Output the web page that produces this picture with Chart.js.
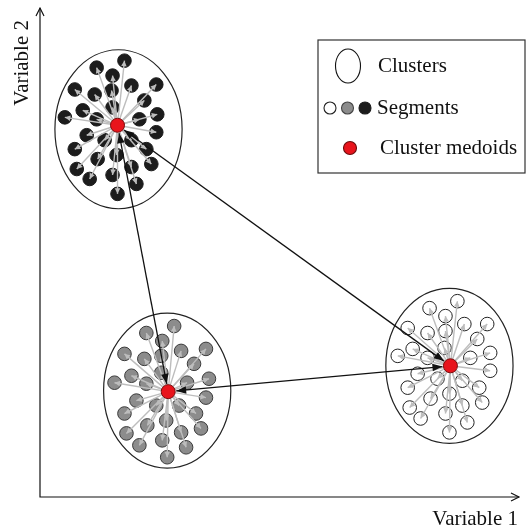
<!DOCTYPE html>
<html>
<head>
<meta charset="utf-8">
<script src="https://cdn.jsdelivr.net/npm/chart.js@4/dist/chart.umd.min.js"></script>
<style>
  html, body { margin: 0; padding: 0; background: #fff; }
  #wrap { width: 527px; height: 531px; }
</style>
</head>
<body>
<div id="wrap"><canvas id="chart"></canvas></div>
<script>
// Сегменты кластеров (Variable 1, Variable 2)
const blackSegments = [
    [85,439],[57,432],[73,424],[92,414],[117,415],[35,410],[55,405],[72,409],[105,399],[43,389],
    [73,392],[118,385],[25,382],[57,380],[100,380],[47,364],[65,359],[92,359],[117,367],[35,350],
    [107,350],[58,340],[77,344],[112,335],[37,330],[92,332],[50,320],[73,324],[97,315],[78,305]
];
const graySegments = [
    [135,172],[107,165],[123,157],[142,147],[167,149],[85,144],[105,139],[122,142],[155,134],[92,122],
    [122,125],[170,119],[75,115],[107,114],[148,115],[97,97],[117,92],[140,92],[167,100],[85,84],
    [157,84],[108,72],[127,77],[162,69],[87,64],[142,65],[100,52],[123,57],[147,50],[128,40]
];
const whiteSegments = [
    [420,197],[392,190],[408,182],[427,174],[450,174],[370,170],[390,165],[408,167],[440,159],[375,149],
    [407,150],[453,145],[360,142],[390,140],[433,140],[380,124],[400,119],[425,117],[453,127],[370,110],
    [442,110],[393,99],[412,104],[445,95],[372,90],[425,92],[383,79],[408,84],[430,75],[412,65]
];

// Медоиды: чёрный, серый, белый кластер
const medoids = [[78,374],[129,106],[413,132]];

// Эллипсы кластеров: центр x, центр y, радиус x, радиус y
const clusterEllipses = [
    [79,370,64,80],
    [128,107,64,78],
    [412,132,64,78]
];

// Связи между медоидами (индексы)
const medoidLinks = [[0,2],[0,1],[1,2]];

const axisLabels = ['Variable 1', 'Variable 2'];
const legendLabels = ['Clusters', 'Segments', 'Cluster medoids'];

const SERIF = '"Liberation Serif", "DejaVu Serif", serif';

const toPts = arr => arr.map(([x, y]) => ({ x, y }));

function arrowHead(ctx, x1, y1, x2, y2, len, half) {
    const a = Math.atan2(y2 - y1, x2 - x1);
    ctx.beginPath();
    ctx.moveTo(x2, y2);
    ctx.lineTo(x2 - len * Math.cos(a) + half * Math.sin(a), y2 - len * Math.sin(a) - half * Math.cos(a));
    ctx.lineTo(x2 - len * Math.cos(a) - half * Math.sin(a), y2 - len * Math.sin(a) + half * Math.cos(a));
    ctx.closePath();
    ctx.fill();
}

// Эллипсы под точками
const ellipsePlugin = {
    id: 'ellipses',
    beforeDatasetsDraw(chart) {
        const { ctx, scales: { x, y } } = chart;
        ctx.save();
        ctx.strokeStyle = '#222';
        ctx.lineWidth = 1.2;
        clusterEllipses.forEach(([cx, cy, rx, ry]) => {
            const px = x.getPixelForValue(cx), py = y.getPixelForValue(cy);
            const rpx = x.getPixelForValue(cx + rx) - px;
            const rpy = py - y.getPixelForValue(cy + ry);
            ctx.beginPath();
            ctx.ellipse(px, py, rpx, rpy, 0, 0, Math.PI * 2);
            ctx.stroke();
        });
        ctx.restore();
    }
};

// Лучи от медоидов к сегментам и стрелки между медоидами
const linksPlugin = {
    id: 'links',
    afterDatasetDraw(chart, args) {
        if (args.index !== 1) return;
        const { ctx, scales: { x, y } } = chart;
        const groups = [blackSegments, graySegments, whiteSegments];
        ctx.save();
        ctx.strokeStyle = '#bdbdbd';
        ctx.fillStyle = '#bdbdbd';
        ctx.lineWidth = 1.4;
        groups.forEach((seg, i) => {
            const mx = x.getPixelForValue(medoids[i][0]);
            const my = y.getPixelForValue(medoids[i][1]);
            seg.forEach(([sx, sy]) => {
                const px = x.getPixelForValue(sx), py = y.getPixelForValue(sy);
                ctx.beginPath();
                ctx.moveTo(mx, my);
                ctx.lineTo(px, py);
                ctx.stroke();
                arrowHead(ctx, mx, my, px, py, 5.5, 2.8);
            });
        });

        ctx.strokeStyle = '#111';
        ctx.fillStyle = '#111';
        ctx.lineWidth = 1.3;
        medoidLinks.forEach(([a, b]) => {
            const ax = x.getPixelForValue(medoids[a][0]), ay = y.getPixelForValue(medoids[a][1]);
            const bx = x.getPixelForValue(medoids[b][0]), by = y.getPixelForValue(medoids[b][1]);
            const d = Math.hypot(bx - ax, by - ay);
            const ux = (bx - ax) / d, uy = (by - ay) / d;
            const gap = 8;
            const sx = ax + ux * gap, sy = ay + uy * gap;
            const ex = bx - ux * gap, ey = by - uy * gap;
            ctx.beginPath();
            ctx.moveTo(sx, sy);
            ctx.lineTo(ex, ey);
            ctx.stroke();
            arrowHead(ctx, sx, sy, ex, ey, 10, 3.8);
            arrowHead(ctx, ex, ey, sx, sy, 10, 3.8);
        });
        ctx.restore();
    }
};

// Оси, подписи и легенда
const framePlugin = {
    id: 'frame',
    afterDraw(chart) {
        const { ctx, chartArea: { left, right, top, bottom } } = chart;
        ctx.save();
        ctx.strokeStyle = '#111';
        ctx.lineWidth = 1.2;
        ctx.beginPath();
        ctx.moveTo(left, top);
        ctx.lineTo(left, bottom);
        ctx.lineTo(right, bottom);
        ctx.stroke();
        // открытые стрелки осей
        ctx.beginPath();
        ctx.moveTo(left - 4, top + 8); ctx.lineTo(left, top); ctx.lineTo(left + 4, top + 8);
        ctx.moveTo(right - 8, bottom - 4); ctx.lineTo(right, bottom); ctx.lineTo(right - 8, bottom + 4);
        ctx.stroke();

        ctx.fillStyle = '#111';
        ctx.font = `21px ${SERIF}`;
        ctx.textAlign = 'right';
        ctx.textBaseline = 'alphabetic';
        ctx.fillText(axisLabels[0], right - 1, bottom + 28);
        ctx.save();
        ctx.translate(left - 12, top + 12);
        ctx.rotate(-Math.PI / 2);
        ctx.textAlign = 'right';
        ctx.fillText(axisLabels[1], 0, 0);
        ctx.restore();

        // легенда
        const bx = 318, by = 40, bw = 207, bh = 133;
        ctx.fillStyle = '#fff';
        ctx.fillRect(bx, by, bw, bh);
        ctx.strokeStyle = '#333';
        ctx.lineWidth = 1.2;
        ctx.strokeRect(bx, by, bw, bh);

        ctx.lineWidth = 1.1;
        ctx.strokeStyle = '#111';
        ctx.beginPath();
        ctx.ellipse(bx + 30, by + 26, 12.5, 17, 0, 0, Math.PI * 2);
        ctx.stroke();

        const seg = [['#fff', '#222'], ['#8c8c8c', '#444'], ['#1c1c1c', '#1c1c1c']];
        seg.forEach(([f, s], i) => {
            ctx.beginPath();
            ctx.arc(bx + 12 + i * 17.5, by + 68, 6, 0, Math.PI * 2);
            ctx.fillStyle = f;
            ctx.fill();
            ctx.strokeStyle = s;
            ctx.stroke();
        });

        ctx.beginPath();
        ctx.arc(bx + 32, by + 108, 6.5, 0, Math.PI * 2);
        ctx.fillStyle = '#e8141c';
        ctx.fill();
        ctx.strokeStyle = '#6a0a0a';
        ctx.stroke();

        ctx.fillStyle = '#111';
        ctx.font = `21px ${SERIF}`;
        ctx.textAlign = 'left';
        ctx.textBaseline = 'middle';
        ctx.fillText(legendLabels[0], bx + 60, by + 26);
        ctx.fillText(legendLabels[1], bx + 59, by + 68);
        ctx.fillText(legendLabels[2], bx + 62, by + 108);
        ctx.restore();
    }
};

new Chart(document.getElementById('chart'), {
    type: 'scatter',
    data: {
        datasets: [
            {
                label: 'Cluster medoids',
                data: toPts(medoids),
                backgroundColor: '#e8141c',
                borderColor: '#7a0c0c',
                borderWidth: 1,
                pointRadius: 7
            },
            {
                label: 'Black segments',
                data: toPts(blackSegments),
                backgroundColor: '#1c1c1c',
                borderColor: '#1c1c1c',
                borderWidth: 1,
                pointRadius: 6.8
            },
            {
                label: 'Gray segments',
                data: toPts(graySegments),
                backgroundColor: '#8c8c8c',
                borderColor: '#3a3a3a',
                borderWidth: 1,
                pointRadius: 6.8
            },
            {
                label: 'White segments',
                data: toPts(whiteSegments),
                backgroundColor: '#ffffff',
                borderColor: '#222',
                borderWidth: 1,
                pointRadius: 6.8
            }
        ]
    },
    options: {
        responsive: true,
        maintainAspectRatio: false,
        animation: false,
        layout: { padding: { left: 40, right: 5, top: 5, bottom: 34 } },
        plugins: {
            legend: { display: false },
            tooltip: { enabled: false }
        },
        scales: {
            x: { type: 'linear', min: 0, max: 482, display: false },
            y: { type: 'linear', min: 0, max: 492, display: false }
        }
    },
    plugins: [ellipsePlugin, linksPlugin, framePlugin]
});
</script>
</body>
</html>
